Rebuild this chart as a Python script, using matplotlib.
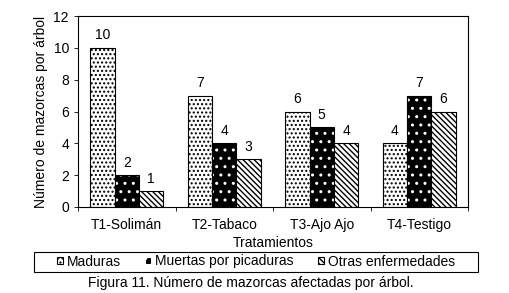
import numpy as np
import matplotlib
matplotlib.use("Agg")
import matplotlib.pyplot as plt
from matplotlib.patches import Patch, Rectangle

plt.rcParams["font.family"] = ["Liberation Sans", "DejaVu Sans"]
plt.rcParams["hatch.linewidth"] = 1.0

# Data
tratamientos = ["T1-Solimán", "T2-Tabaco", "T3-Ajo Ajo", "T4-Testigo"]
maduras = [10, 7, 6, 4]
muertas = [2, 4, 5, 7]
otras = [1, 3, 4, 6]
series_labels = ["Maduras", "Muertas por picaduras", "Otras enfermedades"]

fs = 10
fig = plt.figure(figsize=(5.1, 2.93), dpi=100)
ax = fig.add_axes([78 / 510, 1 - 207 / 293, 390 / 510, 191 / 293])

x = np.arange(len(tratamientos))
w = 0.25

# Maduras: white with black dots
ax.bar(x - w, maduras, w, color="white", edgecolor="black", hatch="....", linewidth=0.8)
# Muertas: black with white dots
ax.bar(x, muertas, w, color="black", edgecolor="white", hatch="..", linewidth=0)
ax.bar(x, muertas, w, fill=False, edgecolor="black", linewidth=0.8)
# Otras: diagonal stripes
ax.bar(x + w, otras, w, color="white", edgecolor="black", hatch="\\" * 6, linewidth=0.8)

for vals, off in [(maduras, -w), (muertas, 0), (otras, w)]:
    for i, v in enumerate(vals):
        ax.annotate(str(v), (x[i] + off, v), textcoords="offset points",
                    xytext=(0, 4), ha="center", va="bottom", fontsize=fs)

ax.set_xlim(-0.5, 3.5)
ax.set_ylim(0, 12)
ax.set_yticks(range(0, 13, 2))
ax.set_xticks(x)
ax.set_xticklabels(tratamientos, fontsize=fs)
ax.tick_params(axis="y", labelsize=fs, length=3, width=0.6)
ax.tick_params(axis="x", length=0, pad=8)
ax.set_xticks([-0.5, 0.5, 1.5, 2.5, 3.5], minor=True)
ax.tick_params(axis="x", which="minor", length=3, width=0.6)
for s in ax.spines.values():
    s.set_linewidth(0.8)
ax.set_xlabel("Tratamientos", fontsize=fs, labelpad=3)
ax.set_ylabel("Número de mazorcas por árbol", fontsize=fs, labelpad=4)

handles = [
    Patch(facecolor="white", edgecolor="black", hatch="....", linewidth=0.8),
    Patch(facecolor="black", edgecolor="white", hatch="..", linewidth=0.8),
    Patch(facecolor="white", edgecolor="black", hatch="\\" * 6, linewidth=0.8),
]
leg = fig.legend(handles, series_labels, loc="center", ncol=3,
                 bbox_to_anchor=(256 / 510, 1 - 261.5 / 293),
                 fontsize=fs, frameon=False,
                 handlelength=0.45, handleheight=0.45, handletextpad=0.3,
                 columnspacing=1.7, borderpad=0, borderaxespad=0)
fig.add_artist(Rectangle((34 / 510, 1 - 272 / 293), 444 / 510, 20 / 293,
                         transform=fig.transFigure, fill=False,
                         edgecolor="black", linewidth=0.8))

fig.text(251 / 510, 1 - 283 / 293, "Figura 11. Número de mazorcas afectadas por árbol.",
         ha="center", va="center", fontsize=fs)

fig.savefig("out.png", dpi=100)
